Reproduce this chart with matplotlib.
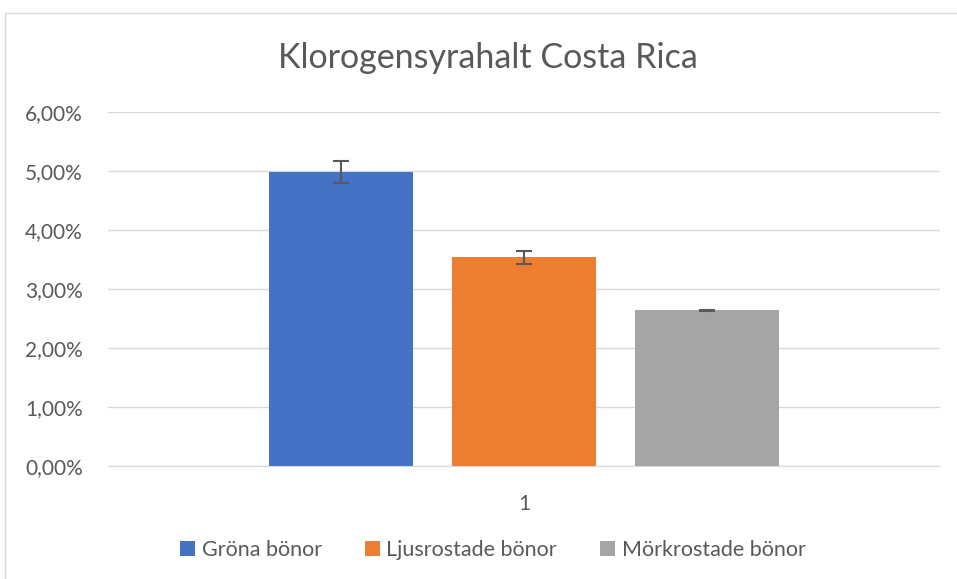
import matplotlib.pyplot as plt
from matplotlib.patches import Rectangle
from matplotlib.ticker import FuncFormatter

series = ["Gröna bönor", "Ljusrostade bönor", "Mörkrostade bönor"]
values = [4.98, 3.54, 2.64]
errors = [0.19, 0.11, 0.01]
colors = ["#4472C4", "#ED7D31", "#A5A5A5"]
category = [1]

plt.rcParams['font.family'] = ['Lato', 'DejaVu Sans']

fig = plt.figure(figsize=(9.57, 5.79), dpi=100)
ax = fig.add_axes([108/957, 1-466/579, 832/957, 354/579])

# chart border like the spreadsheet frame
fig.patches.append(Rectangle((5/957, -0.05), 960/957, 1.05-13/579, transform=fig.transFigure,
                             fill=False, edgecolor="#d9d9d9", linewidth=1))

width = 0.174
step = 0.22
for i, (name, v, e, c) in enumerate(zip(series, values, errors, colors)):
    x = category[0] + (i - 1) * step
    ax.bar(x, v, width=width, color=c, label=name, zorder=2)
    ax.errorbar(x, v, yerr=e, fmt='none', ecolor="#595959", elinewidth=1.5,
                capsize=6, capthick=1.5, zorder=3)

ax.set_xlim(0.5, 1.5)
ax.set_ylim(0, 6)
ax.set_yticks([0, 1, 2, 3, 4, 5, 6])
ax.yaxis.set_major_formatter(FuncFormatter(lambda v, p: f"{v:.2f}%".replace(".", ",")))
ax.set_xticks(category)
ax.set_xticklabels(["1"])
ax.grid(axis='y', color="#d9d9d9", linewidth=1, zorder=0)
for s in ["top", "right", "left"]:
    ax.spines[s].set_visible(False)
ax.spines["bottom"].set_color("#d9d9d9")
ax.tick_params(length=0, labelsize=15, labelcolor="#595959", pad=18)
ax.tick_params(axis='x', pad=20)

fig.text(488/957, 1-58/579, "Klorogensyrahalt Costa Rica", ha='center', va='center',
         fontsize=24.5, color="#595959")

fig.legend(loc='center', bbox_to_anchor=(0.515, 1-550/579), ncol=3, frameon=False,
           fontsize=15.5, labelcolor="#595959", handlelength=0.7, handleheight=0.7,
           handletextpad=0.3, columnspacing=2.0)

fig.savefig("out.png", dpi=100)
